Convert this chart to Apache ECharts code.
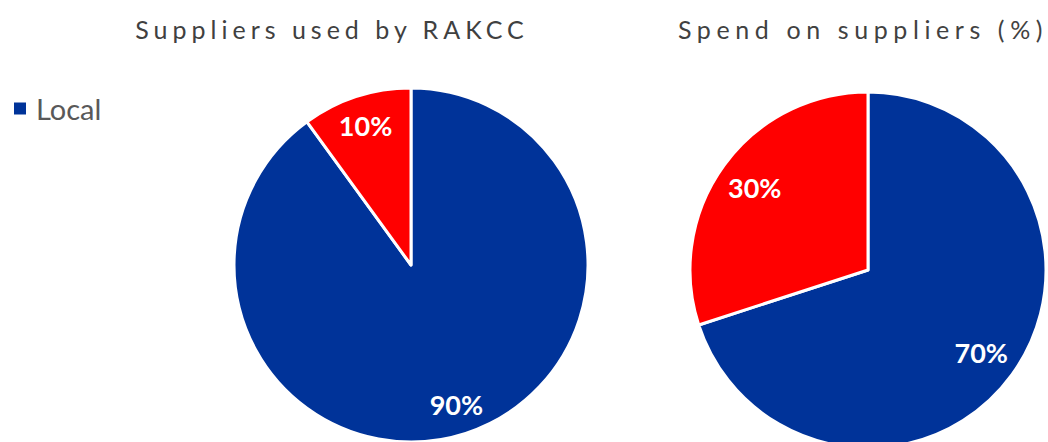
<!DOCTYPE html>
<html>
<head>
<meta charset="utf-8">
<script src="https://cdn.jsdelivr.net/npm/echarts@6/dist/echarts.min.js"></script>
<style>
  html, body { margin: 0; padding: 0; background: #fff; }
  #chart { width: 1048px; height: 442px; }
  /* spaced-out chart titles */
  #chart svg text[fill="#404040"] { letter-spacing: 5px; }
  #chart svg text[fill="#414141"] { letter-spacing: 5.6px; }
</style>
</head>
<body>
<div id="chart"></div>
<script>
// Supplier categories and their shares
const categories = ['Local', 'Other'];
const suppliersUsed = [90, 10];
const supplierSpend = [70, 30];
const sliceColors = ['#003399', '#FF0000'];
const titles = ['Suppliers used by RAKCC', 'Spend on suppliers (%)'];

const chart = echarts.init(document.getElementById('chart'), null, { renderer: 'svg' });

function pieData(values) {
  return categories.map((name, i) => ({ name, value: values[i], itemStyle: { color: sliceColors[i] } }));
}

function pieSeries(values, center, radius, labelInner) {
  return [
    {
      type: 'pie',
      center,
      radius,
      startAngle: 90,
      clockwise: true,
      silent: true,
      label: { show: false },
      labelLine: { show: false },
      itemStyle: { borderColor: '#ffffff', borderWidth: 3 },
      data: pieData(values)
    },
    {
      // label-only ring, places the percentage text toward the rim
      type: 'pie',
      center,
      radius: [labelInner, radius],
      startAngle: 90,
      clockwise: true,
      silent: true,
      legendHoverLink: false,
      itemStyle: { color: 'rgba(0,0,0,0)' },
      labelLine: { show: false },
      label: {
        show: true,
        position: 'inside',
        formatter: '{c}%',
        color: '#ffffff',
        fontFamily: 'Lato',
        fontWeight: 'bold',
        fontSize: 27
      },
      data: categories.map((name, i) => ({ name: name + ' ', value: values[i] }))
    }
  ];
}

chart.setOption({
  animation: false,
  backgroundColor: '#ffffff',
  title: [
    { text: titles[0], left: 327, top: 11, textAlign: 'center',
      textStyle: { color: '#404040', fontFamily: 'Lato', fontWeight: 'normal', fontSize: 25 } },
    { text: titles[1], left: 858, top: 11, textAlign: 'center',
      textStyle: { color: '#414141', fontFamily: 'Lato', fontWeight: 'normal', fontSize: 25 } }
  ],
  legend: {
    data: ['Local'],
    left: 12,
    top: 94,
    padding: 0,
    icon: 'rect',
    itemWidth: 14,
    itemHeight: 14,
    itemGap: 10,
    selectedMode: false,
    textStyle: { color: '#595959', fontFamily: 'Lato', fontSize: 29, padding: [0, 0, 6, 4] }
  },
  series: [
    ...pieSeries(suppliersUsed, [411, 265], 177, 111),
    ...pieSeries(supplierSpend, [868, 270], 178, 96)
  ]
});
</script>
</body>
</html>
